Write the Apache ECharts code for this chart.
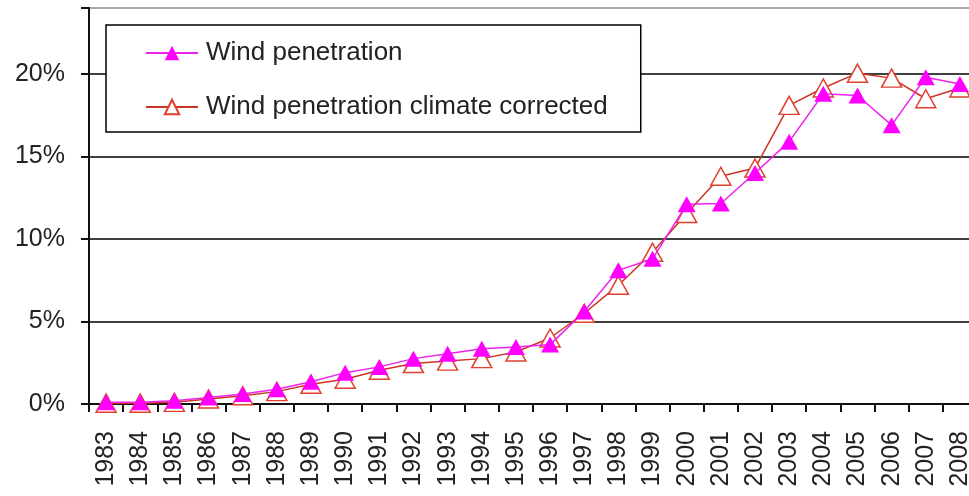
<!DOCTYPE html>
<html>
<head>
<meta charset="utf-8">
<script src="https://cdn.jsdelivr.net/npm/echarts@6/dist/echarts.min.js"></script>
<style>
  html, body { margin: 0; padding: 0; background: #fff; }
  #chart { width: 969px; height: 496px; }
</style>
</head>
<body>
<div id="chart"></div>
<script>
// years on the x axis
const years = ['1983','1984','1985','1986','1987','1988','1989','1990','1991','1992','1993','1994','1995',
  '1996','1997','1998','1999','2000','2001','2002','2003','2004','2005','2006','2007','2008'];

// wind penetration, %
const windPenetration = [0.1, 0.1, 0.2, 0.4, 0.6, 0.9, 1.35, 1.9, 2.25, 2.75, 3.05, 3.35, 3.45,
  3.6, 5.6, 8.1, 8.8, 12.1, 12.15, 14.0, 15.9, 18.8, 18.7, 16.9, 19.8, 19.4];

// wind penetration climate corrected, %
const windCorrected = [0.05, 0.05, 0.1, 0.3, 0.5, 0.75, 1.2, 1.5, 2.05, 2.45, 2.6, 2.75, 3.15,
  4.0, 5.5, 7.2, 9.2, 11.55, 13.8, 14.3, 18.1, 19.15, 20.05, 19.75, 18.5, 19.15];

const yTicks = [0, 5, 10, 15, 20];

const font = 'Liberation Sans, Arial, sans-serif';

let myChart = echarts.init(document.getElementById('chart'));
let options = {
  animation: false,
  backgroundColor: '#fff',
  textStyle: { fontFamily: font },
  grid: {
    left: 89,
    top: 8,
    bottom: 92,
    right: -8,
    outerBoundsMode: 'none',
    containLabel: false
  },
  legend: {
    orient: 'vertical',
    left: 106,
    top: 25,
    data: ['Wind penetration', 'Wind penetration climate corrected'],
    backgroundColor: '#fff',
    borderColor: '#000',
    borderWidth: 1.5,
    borderRadius: 0,
    padding: [15, 33, 12, 39],
    itemGap: 28,
    itemWidth: 52,
    itemHeight: 18,
    textStyle: {
      fontFamily: font,
      fontSize: 26,
      color: '#222',
      padding: [0, 0, 0, 3]
    }
  },
  xAxis: {
    type: 'category',
    data: years,
    boundaryGap: true,
    axisLine: { lineStyle: { color: '#111', width: 2 } },
    axisTick: {
      show: true,
      interval: 0,
      length: 8,
      lineStyle: { color: '#111', width: 2 }
    },
    axisLabel: {
      interval: 0,
      rotate: 90,
      margin: 27,
      fontSize: 25,
      color: '#222',
      fontFamily: font
    }
  },
  yAxis: {
    type: 'value',
    min: 0,
    max: 24,
    interval: 5,
    axisLine: { show: true, lineStyle: { color: '#111', width: 2 } },
    axisTick: { show: true, length: 8, lineStyle: { color: '#111', width: 2 } },
    axisLabel: {
      margin: 24,
      fontSize: 25,
      color: '#222',
      fontFamily: font,
      formatter: function (v) {
        return yTicks.indexOf(v) >= 0 ? v + '%' : '';
      }
    },
    splitLine: {
      show: true,
      lineStyle: {
        color: ['#000', '#000', '#000', '#000', '#000', '#8a8a8a'],
        width: 1.5
      }
    }
  },
  series: [
    {
      name: 'Wind penetration climate corrected',
      type: 'line',
      data: windCorrected,
      symbol: 'triangle',
      symbolSize: [20, 18],
      z: 2,
      lineStyle: { color: '#cc3322', width: 1.5 },
      itemStyle: { color: '#fff', borderColor: '#e0402c', borderWidth: 1.5 }
    },
    {
      name: 'Wind penetration',
      type: 'line',
      data: windPenetration,
      symbol: 'triangle',
      symbolSize: [18, 16],
      z: 3,
      lineStyle: { color: '#ee22ee', width: 1.5 },
      itemStyle: { color: '#ff00ff' }
    }
  ]
};
myChart.setOption(options);
</script>
</body>
</html>
